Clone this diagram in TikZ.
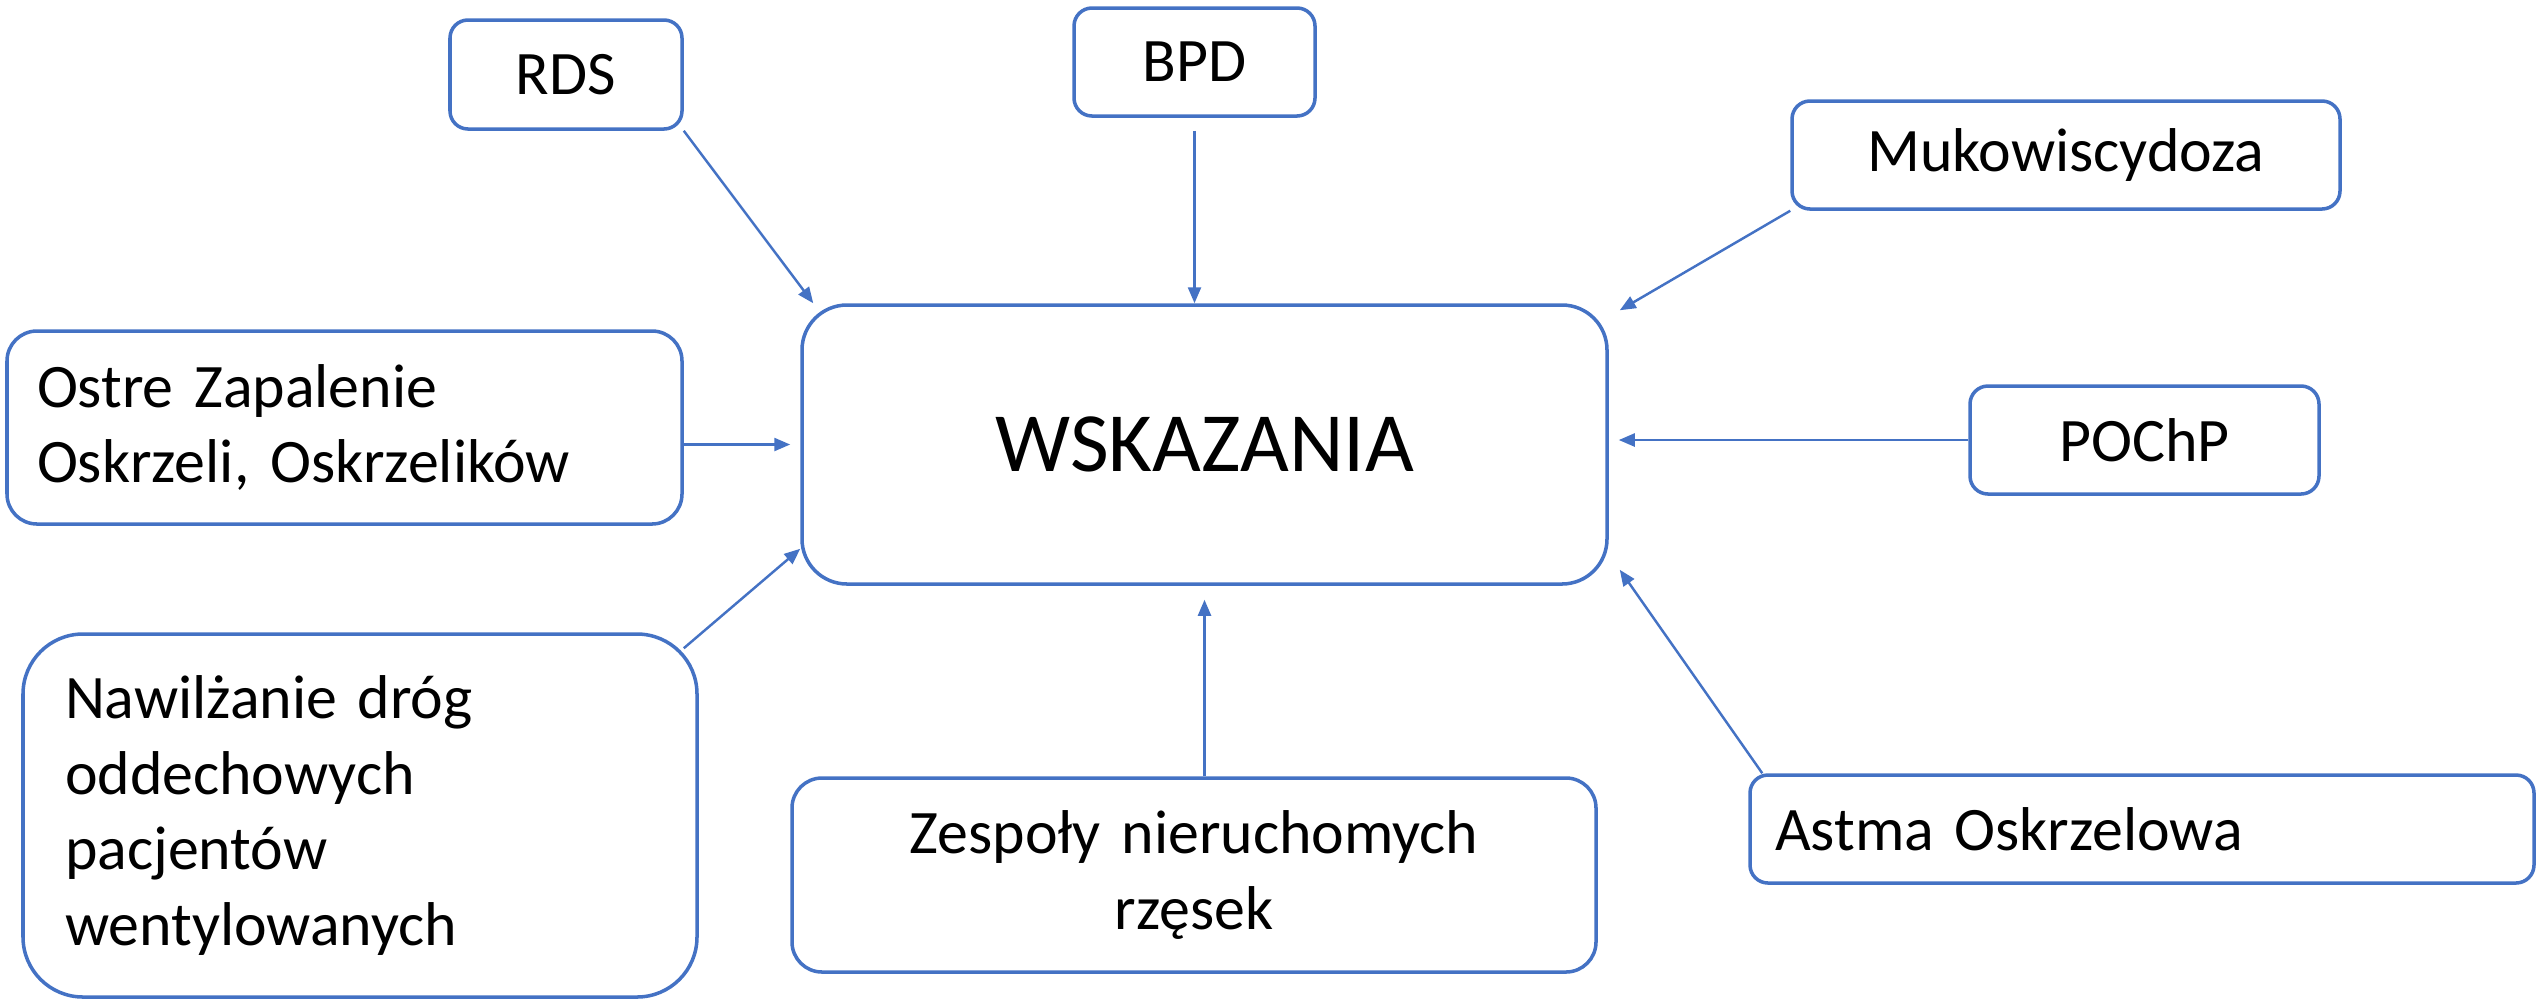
\documentclass[tikz,border=0pt]{standalone}
\usepackage{fontspec}
\setmainfont{Carlito}
\usetikzlibrary{arrows.meta}
\definecolor{wsBlue}{HTML}{4472C4}
\tikzset{
  box/.style={draw=wsBlue,line width=1pt,rounded corners=0.18cm,font=\fontsize{17.6pt}{21.6pt}\selectfont,inner sep=0pt},
  link/.style={wsBlue,line width=0.7pt,-{Triangle[length=0.16cm,width=0.13cm]}}
}
\begin{document}
\begin{tikzpicture}[x=1cm,y=1cm]
	\useasboundingbox (0,0) rectangle (25.37,-9.98);
		% centre
		\node[box,rounded corners=0.45cm,minimum width=8.05cm,minimum height=2.79cm,
			font=\fontsize{24pt}{29pt}\selectfont] (wsk) at (12.045,-4.445) {WSKAZANIA};
		% top row
		\node[box,minimum width=2.32cm,minimum height=1.09cm] (rds) at (5.66,-0.745) {RDS};
		\node[box,minimum width=2.41cm,minimum height=1.08cm] (bpd) at (11.945,-0.62) {BPD};
		\node[box,minimum width=5.48cm,minimum height=1.08cm] (muko) at (20.66,-1.55) {Mukowiscydoza};
		% sides
		\node[box,rounded corners=0.3cm,minimum width=6.75cm,minimum height=1.93cm,
			text width=6.15cm,align=left] (ostre) at (3.445,-4.275) {Ostre Zapalenie\\Oskrzeli, Oskrzelików};
		\node[box,minimum width=3.49cm,minimum height=1.08cm] (pochp) at (21.445,-4.40) {POChP};
		% bottom row
		\node[box,rounded corners=0.6cm,minimum width=6.74cm,minimum height=3.63cm,
			text width=5.90cm,align=left] (nawil) at (3.60,-8.155) {Nawilżanie dróg\\oddechowych\\pacjentów\\wentylowanych};
		\node[box,rounded corners=0.3cm,minimum width=8.04cm,minimum height=1.94cm,
			text width=7.4cm,align=center] (zesp) at (11.94,-8.75) {Zespoły nieruchomych\\rzęsek};
		\node[box,minimum width=7.84cm,minimum height=1.08cm,
			text width=7.34cm,align=left] (astma) at (21.42,-8.29) {Astma Oskrzelowa};
		% arrows
		\draw[link] (rds.south east) -- ([xshift=0.13cm]wsk.north west);
		\draw[link] ([yshift=-0.13cm]bpd.south) -- (bpd.south |- wsk.north);
		\draw[link] (muko.south west) -- ([xshift=0.11cm,yshift=-0.07cm]wsk.north east);
		\draw[link] (ostre.east |- wsk.west) -- ([xshift=-0.1cm]wsk.west);
		\draw[link] (pochp.west) -- ([xshift=0.1cm]wsk.east |- pochp.west);
		\draw[link] ([xshift=-0.15cm,yshift=-0.16cm]nawil.north east) -- ([yshift=0.37cm]wsk.south west);
		\draw[link] (wsk.south |- zesp.north) -- ([yshift=-0.14cm]wsk.south);
		\draw[link] ([xshift=0.14cm]astma.north west) -- ([xshift=0.11cm,yshift=0.16cm]wsk.south east);
	\end{tikzpicture}
\end{document}
